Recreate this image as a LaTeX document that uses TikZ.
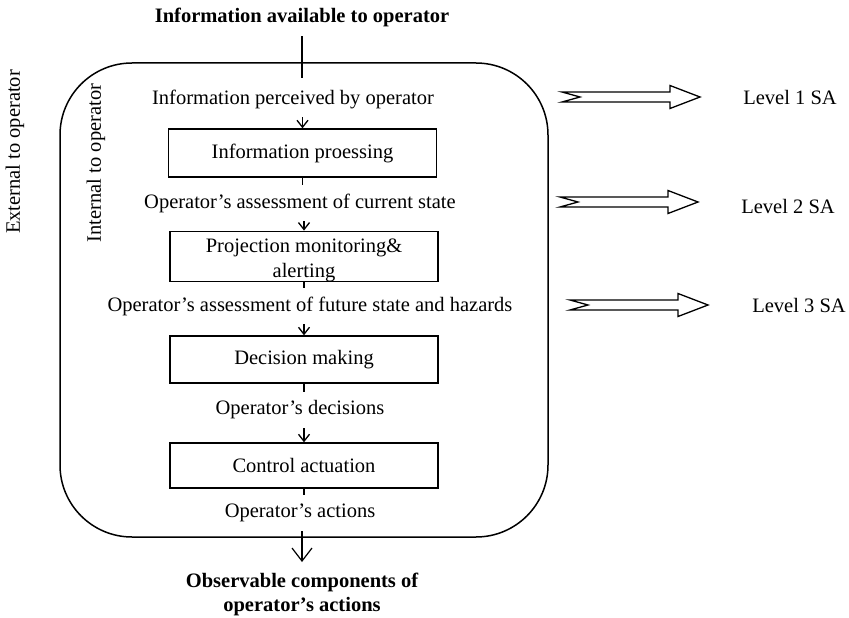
\documentclass[tikz,border=0pt]{standalone}
\usepackage{fontspec}
\setmainfont{Liberation Serif}
\usetikzlibrary{arrows.meta}
\begin{document}
\begin{tikzpicture}[x=1pt,y=-1pt,
  every node/.style={font=\fontsize{20.5}{24}\selectfont, inner sep=0pt},
  lbl/.style={outer sep=9pt},
  boldlbl/.style={font=\fontsize{20.5}{24}\selectfont\bfseries, align=center, outer sep=10pt},
  procbox/.style={draw, line width=1.4pt, minimum width=268pt, align=center},
  flow/.style={line width=1.2pt},
  small/.style={flow, -{Straight Barb[length=7pt,width=11pt,line width=1.3pt]}},
  big/.style={flow, -{Straight Barb[length=13pt,width=20pt,line width=1.2pt]}},
  saarrow/.pic={\draw[line width=1.3pt, line join=miter]
     (0,-5) -- (108,-5) -- (108,-11.5) -- (138,0) -- (108,11.5) -- (108,5)
     -- (0,5) -- (18,0) -- cycle;}
]
\useasboundingbox (0,0) rectangle (849,618);

% enclosing rounded frame
\draw[line width=1.5pt, rounded corners=72pt] (60,63) rectangle (548,537);

% titles
\node[boldlbl] (top) at (302,17) {Information available to operator};
\node[boldlbl] (bottom) at (302,594) {Observable components of\\operator's actions};

% side labels
\node[rotate=90] (ext) at (15,152) {External to operator};
\node[rotate=90] (int) at (96,163) {Internal to operator};

% labels and boxes
\node[lbl] (l1) at (293,99) {Information perceived by operator};
\node[procbox, minimum height=48pt] (b1) at (302.5,153) {Information proessing};
\node[lbl] (l2) at (300,203) {Operator's assessment of current state};
\node[procbox, minimum height=47pt, font=\fontsize{20.5}{25}\selectfont] (b2) at (304,256.5)
   {\rule{0pt}{21pt}Projection monitoring\&\\alerting};
\node[lbl] (l3) at (310,306) {Operator's assessment of future state and hazards};
\node[procbox, minimum height=47pt] (b3) at (304,359.5) {Decision making};
\node[lbl] (l4) at (300,410) {Operator's decisions};
\node[procbox, minimum height=45pt] (b4) at (304,465.5) {Control actuation};
\node[lbl] (l5) at (300,513) {Operator's actions};

\coordinate (topend) at (302,78);
\coordinate (outend) at (302,562);

% connectors
\draw[flow] (top.south -| topend) -- (topend);
\draw[small] (l1.south -| b1.north) -- (b1.north);
\draw[flow] (b1.south) -- (l2.north -| b1.south);
\draw[small] (l2.south -| b2.north) -- (b2.north);
\draw[flow] (b2.south) -- (l3.north -| b2.south);
\draw[small] (l3.south -| b3.north) -- (b3.north);
\draw[flow] (b3.south) -- (l4.north -| b3.south);
\draw[small] (l4.south -| b4.north) -- (b4.north);
\draw[flow] (b4.south) -- (l5.north -| b4.south);
\draw[big] (l5.south -| outend) -- (outend);

% SA level arrows and labels
\pic at (562,97) {saarrow};
\pic at (560,202) {saarrow};
\pic at (570,305) {saarrow};
\node (sa1) at (790,97) {Level 1 SA};
\node (sa2) at (788,206) {Level 2 SA};
\node (sa3) at (799,305) {Level 3 SA};
\end{tikzpicture}
\end{document}
